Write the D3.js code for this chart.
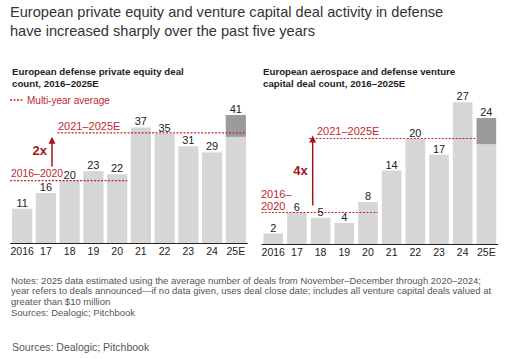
<!DOCTYPE html>
<html><head><meta charset="utf-8">
<script src="https://cdn.jsdelivr.net/npm/d3@7/dist/d3.min.js"></script>
<style>
body{margin:0;background:#fff;}
svg{display:block;font-family:"Liberation Sans",Arial,sans-serif;}
</style></head>
<body>
<script>
const years = ["2016","17","18","19","20","21","22","23","24","25E"];
const peDeals = [11,16,20,23,22,37,35,31,29,34];
const peEstimate = [0,0,0,0,0,0,0,0,0,7];
const vcDeals = [2,6,5,4,8,14,20,17,27,19];
const vcEstimate = [0,0,0,0,0,0,0,0,0,5];
const peAverages = [{label:"2016–2020", value:20, from:0, to:4},{label:"2021–2025E", value:35.3, from:2, to:9}];
const vcAverages = [{label:"2016–2020", value:6, from:0, to:4},{label:"2021–2025E", value:20.1, from:2, to:9}];
const multipliers = ["2x","4x"];

const W=508,H=359;
const red="#c0282d", darkRed="#a3141b";
const svg=d3.select("body").append("svg").attr("width",W).attr("height",H);

// Title
svg.append("text").attr("x",10).attr("y",17).attr("font-size",14.6).attr("fill","#333")
  .text("European private equity and venture capital deal activity in defense");
svg.append("text").attr("x",10).attr("y",36).attr("font-size",14.6).attr("fill","#333")
  .text("have increased sharply over the past five years");

function subtitle(x, lines){
  lines.forEach((t,i)=>svg.append("text").attr("x",x).attr("y",75+i*12).attr("font-size",9.7).attr("font-weight","bold").attr("fill","#222").text(t));
}
subtitle(12,["European defense private equity deal","count, 2016–2025E"]);
subtitle(263,["European aerospace and defense venture","capital deal count, 2016–2025E"]);

// legend
svg.append("line").attr("x1",10).attr("x2",24).attr("y1",100).attr("y2",100).attr("stroke",red).attr("stroke-width",1.3).attr("stroke-dasharray","2,1.5");
svg.append("text").attr("x",27).attr("y",103.5).attr("font-size",10).attr("fill",red).text("Multi-year average");

function chart(cfg){
  const x=d3.scaleBand().domain(years).range(cfg.xr).paddingInner(cfg.pad).paddingOuter(cfg.pad/2);
  const y=d3.scaleLinear().domain([0,cfg.ymax]).range([cfg.base,cfg.ytop]);
  const g=svg.append("g");
  const tot=cfg.actual.map((v,i)=>v+cfg.est[i]);
  function avgLines(){
    cfg.avgs.forEach((a,i)=>{
      const x1=x(years[a.from])-2, x2=(cfg.behindLast&&i===1)? x(years[a.to]) : x(years[a.to])+x.bandwidth();
      g.append("line").attr("x1",x1).attr("x2",x2).attr("y1",y(a.value)).attr("y2",y(a.value))
        .attr("stroke",red).attr("stroke-width",1.2).attr("stroke-dasharray","2,1.5");
    });
  }
  g.selectAll("rect.a").data(cfg.actual).join("rect").attr("class","a")
    .attr("x",(d,i)=>x(years[i])).attr("width",x.bandwidth())
    .attr("y",d=>y(d)).attr("height",d=>cfg.base-y(d)).attr("fill","#d6d6d6");
  g.selectAll("rect.e").data(cfg.est).join("rect").attr("class","e")
    .attr("x",(d,i)=>x(years[i])).attr("width",x.bandwidth())
    .attr("y",(d,i)=>y(cfg.actual[i]+d)).attr("height",(d,i)=>y(cfg.actual[i])-y(cfg.actual[i]+d)).attr("fill","#9b9b9b");
  avgLines();
  g.selectAll("text.v").data(tot).join("text").attr("class","v")
    .attr("x",(d,i)=>x(years[i])+x.bandwidth()/2).attr("y",d=>y(d)-2)
    .attr("text-anchor","middle").attr("font-size",11).attr("fill","#222").text(d=>d);
  const ax=g.append("g").attr("transform",`translate(0,${cfg.base})`)
    .call(d3.axisBottom(x).tickSize(0).tickPadding(4.5));
  ax.select(".domain").attr("stroke","#222").attr("stroke-width",1).attr("d",`M${cfg.xr[0]},0.5H${cfg.xr[1]}`);
  ax.selectAll("text").attr("font-size",10.5).attr("fill","#222").attr("font-family","Liberation Sans, Arial, sans-serif");
  cfg.labels(g,x,y);
  const ax0=cfg.arrowX;
  g.append("line").attr("x1",ax0).attr("x2",ax0).attr("y1",y(cfg.avgs[0].value)-cfg.arrowGap).attr("y2",y(cfg.avgs[1].value)-cfg.arrowTop+6)
    .attr("stroke",darkRed).attr("stroke-width",1.5);
  const ty=y(cfg.avgs[1].value)-cfg.arrowTop;
  g.append("path").attr("d",`M${ax0},${ty}L${ax0-3.5},${ty+7}L${ax0+3.5},${ty+7}Z`).attr("fill",darkRed);
  g.append("text").attr("x",ax0-5).attr("y",cfg.multY).attr("text-anchor","end").attr("font-size",13).attr("font-weight","bold")
    .attr("fill",darkRed).text(cfg.mult);
}

chart({xr:[10.3,247.7],pad:0.15,ymax:41,base:243,ytop:115,actual:peDeals,est:peEstimate,avgs:peAverages,
  arrowX:52,arrowGap:14,arrowTop:-4,mult:multipliers[0],multY:155,behindLast:false,
  labels:(g,x,y)=>{
    g.append("text").attr("x",11).attr("y",y(peAverages[0].value)-3.5).attr("font-size",10.4).attr("fill",red).text(peAverages[0].label);
    g.append("text").attr("x",58).attr("y",y(peAverages[1].value)-3).attr("font-size",11).attr("fill",red).text(peAverages[1].label);
  }});

chart({xr:[261.4,498.2],pad:0.17,ymax:24,base:244,ytop:118,actual:vcDeals,est:vcEstimate,avgs:vcAverages,
  arrowX:312.7,arrowGap:7,arrowTop:3,mult:multipliers[1],multY:175,behindLast:true,
  labels:(g,x,y)=>{
    g.append("text").attr("x",261).attr("y",y(vcAverages[0].value)-15).attr("font-size",11).attr("fill",red).text("2016–");
    g.append("text").attr("x",261).attr("y",y(vcAverages[0].value)-3).attr("font-size",11).attr("fill",red).text("2020");
    g.append("text").attr("x",317).attr("y",y(vcAverages[1].value)-3).attr("font-size",11).attr("fill",red).text(vcAverages[1].label);
  }});

const notes=["Notes: 2025 data estimated using the average number of deals from November–December through 2020–2024;",
"year refers to deals announced—if no data given, uses deal close date; includes all venture capital deals valued at",
"greater than $10 million","Sources: Dealogic; Pitchbook"];
notes.forEach((t,i)=>svg.append("text").attr("x",11).attr("y",283.5+i*10.9).attr("font-size",9.5).attr("fill","#555").text(t));
svg.append("text").attr("x",12).attr("y",350.5).attr("font-size",10.5).attr("fill","#555").text("Sources: Dealogic; Pitchbook");
</script>
</body></html>
